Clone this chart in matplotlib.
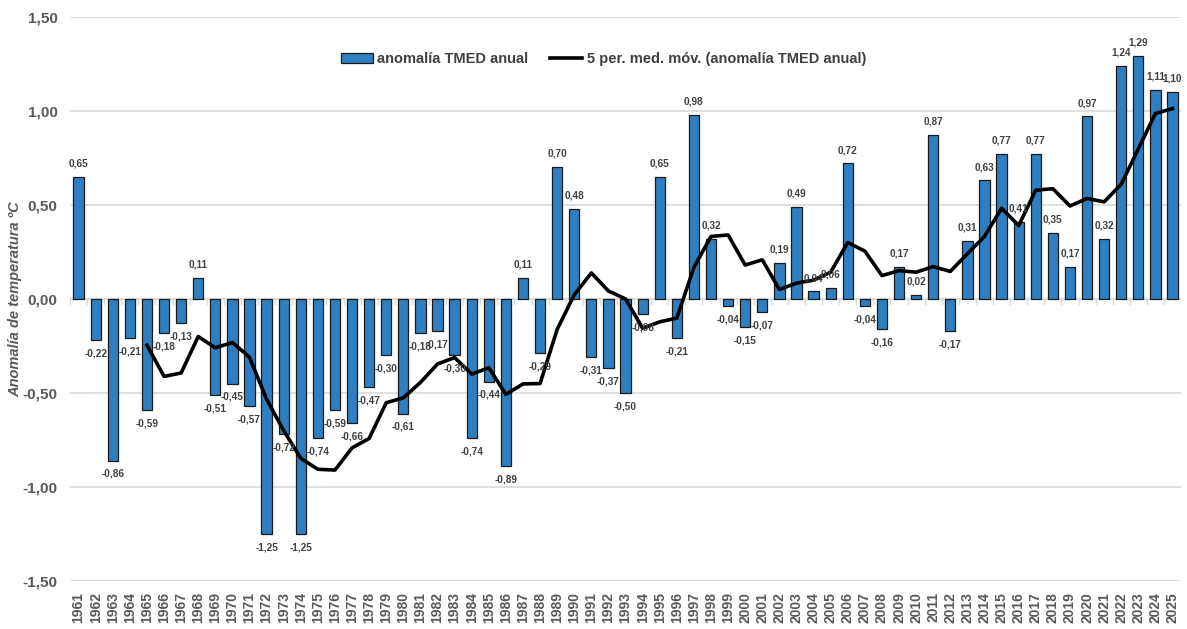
import numpy as np
import matplotlib
matplotlib.use("Agg")
from matplotlib import pyplot as plt

years = list(range(1961, 2026))
anomaly = [0.65, -0.22, -0.86, -0.21, -0.59, -0.18, -0.13, 0.11, -0.51, -0.45,
           -0.57, -1.25, -0.72, -1.25, -0.74, -0.59, -0.66, -0.47, -0.30, -0.61,
           -0.18, -0.17, -0.30, -0.74, -0.44, -0.89, 0.11, -0.29, 0.70, 0.48,
           -0.31, -0.37, -0.50, -0.08, 0.65, -0.21, 0.98, 0.32, -0.04, -0.15,
           -0.07, 0.19, 0.49, 0.04, 0.06, 0.72, -0.04, -0.16, 0.17, 0.02,
           0.87, -0.17, 0.31, 0.63, 0.77, 0.41, 0.77, 0.35, 0.17, 0.97,
           0.32, 1.24, 1.29, 1.11, 1.10]
# 5-year moving average as drawn (first 4 years empty)
moving_avg = [None, None, None, None, -0.246, -0.412, -0.394, -0.200, -0.260, -0.232,
              -0.310, -0.534, -0.700, -0.848, -0.906, -0.910, -0.792, -0.742, -0.552, -0.526,
              -0.444, -0.346, -0.312, -0.400, -0.366, -0.508, -0.452, -0.450, -0.162, 0.022,
              0.138, 0.042, 0.000, -0.156, -0.122, -0.102, 0.168, 0.332, 0.340, 0.180,
              0.208, 0.050, 0.084, 0.100, 0.142, 0.300, 0.254, 0.124, 0.150, 0.142,
              0.172, 0.146, 0.240, 0.332, 0.482, 0.390, 0.578, 0.586, 0.494, 0.534,
              0.516, 0.610, 0.798, 0.986, 1.012]
yticks = [-1.5, -1.0, -0.5, 0.0, 0.5, 1.0, 1.5]

plt.rcParams['font.family'] = ['Liberation Sans Narrow', 'Liberation Sans', 'DejaVu Sans']
grey = '#595959'

fig = plt.figure(figsize=(11.87, 6.29), dpi=100)
ax = fig.add_axes([0.059, 0.0763, 0.936, 0.897])

x = np.arange(len(years))
bars = ax.bar(x, anomaly, width=0.6, color='#2E7EC1', edgecolor='#1a1a1a', linewidth=0.9,
              label='anomalía TMED anual', zorder=2)
ma = np.array([np.nan if v is None else v for v in moving_avg])
line, = ax.plot(x, ma, color='black', linewidth=2.6,
                label='5 per. med. móv. (anomalía TMED anual)', zorder=3)

for xi, v in zip(x, anomaly):
    txt = f"{v:.2f}".replace('.', ',')
    if v >= 0:
        ax.annotate(txt, (xi, v), xytext=(0, 6), textcoords='offset points',
                    ha='center', va='bottom', fontsize=7.2, fontweight='bold', color='#404040', zorder=4)
    else:
        ax.annotate(txt, (xi, v), xytext=(0, -6), textcoords='offset points',
                    ha='center', va='top', fontsize=7.2, fontweight='bold', color='#404040', zorder=4)

ax.set_xlim(-0.5, len(years) - 0.5)
ax.set_ylim(-1.5, 1.5)
ax.set_yticks(yticks)
ax.set_yticklabels([f"{t:.2f}".replace('.', ',') for t in yticks], fontsize=11,
                   fontweight='bold', color=grey)
ax.set_xticks(x)
ax.set_xticklabels([str(y) for y in years], rotation=90, fontsize=10, fontweight='bold', color=grey)
ax.tick_params(axis='y', length=0, pad=9)
ax.tick_params(axis='x', length=0, pad=8)
ax.grid(axis='y', color='#d9d9d9', linewidth=1.2, zorder=0)
ax.set_axisbelow(True)
for s in ax.spines.values():
    s.set_visible(False)
ax.axhline(0, color='#d9d9d9', linewidth=1.2, zorder=1)
for xi in np.arange(len(years) + 1) - 0.5:
    ax.plot([xi, xi], [0, -0.025], color='#d9d9d9', linewidth=1, zorder=1)

ax.set_ylabel('Anomalía de temperatura ºC', fontsize=10.5, fontweight='bold', fontstyle='italic',
              color=grey)
ax.yaxis.set_label_coords(-0.043, 0.5)

leg = ax.legend([bars, line], [bars.get_label(), line.get_label()],
                loc='upper center', bbox_to_anchor=(0.48, 0.96), ncol=2, frameon=False,
                prop={'size': 10.5, 'weight': 'bold'}, columnspacing=1.5, handlelength=2.2,
                handletextpad=0.3)
for t in leg.get_texts():
    t.set_color('#404040')

fig.savefig('out.png', dpi=100)
